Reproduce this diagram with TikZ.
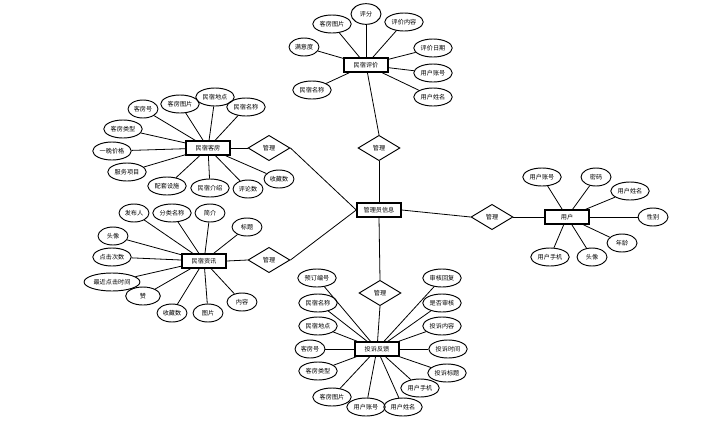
\documentclass[tikz,border=0pt]{standalone}
\usepackage{fontspec}
\newfontfamily\cjk{Noto Sans CJK SC}
\usetikzlibrary{shapes.geometric}

\tikzset{every picture/.style={line width=0.6pt}}
\tikzset{
	txt/.style={font=\cjk\fontsize{4.6pt}{5pt}\selectfont},
	attr/.style={txt, draw, ellipse, line width=0.7pt, inner xsep=1pt, inner ysep=0pt, minimum width=22.5pt, minimum height=13.5pt},
	ent/.style={txt, draw, rectangle, line width=1.1pt, inner sep=1pt, minimum width=33pt, minimum height=10.5pt},
	rel/.style={txt, draw, diamond, line width=0.7pt, inner sep=0pt, minimum width=31.5pt, minimum height=19pt}}

\begin{document}
\begin{tikzpicture}[x=0.75pt,y=0.75pt,yscale=-1,xscale=1]
	\useasboundingbox (0,0) rectangle (706,422);

	% Entities
	\node [ent] (gly) at (379,210) {管理员信息};
	\node [ent] (pj) at (366,65) {民宿评价};
	\node [ent] (kf) at (208,148) {民宿客房};
	\node [ent] (zx) at (204,261) {民宿资讯};
	\node [ent] (ts) at (377,349) {投诉反馈};
	\node [ent] (yh) at (567,217) {用户};

	% Relations
	\node [rel] (glpj) at (379,148) {管理};
	\node [rel] (glkf) at (269,148) {管理};
	\node [rel] (glzx) at (269,260) {管理};
	\node [rel] (glts) at (380,293) {管理};
	\node [rel] (glyh) at (492,217) {管理};

	\draw (pj) -- (glpj.north);
	\draw (glpj.south) -- (gly.north);
	\draw (kf.east) -- (glkf.west);
	\draw (glkf.east) -- (gly.west);
	\draw (zx.east) -- (glzx.west);
	\draw (glzx.east) -- (gly.west);
	\draw (ts) -- (glts.south);
	\draw (glts.north) -- (gly.south);
	\draw (yh.west) -- (glyh.east);
	\draw (glyh.west) -- (gly.east);

	% Text Node -- 民宿评价
	\node [attr] (pj1) at (332,24) {客房图片};
	\node [attr, minimum height=15.5pt] (pj2) at (366,14) {评分};
	\node [attr] (pj3) at (404,22) {评价内容};
	\node [attr] (pj4) at (304,47) {满意度};
	\node [attr] (pj5) at (433,48) {评价日期};
	\node [attr] (pj6) at (433,73) {用户账号};
	\node [attr] (pj7) at (433,97) {用户姓名};
	\node [attr] (pj8) at (312,90) {民宿名称};
	\foreach \i in {1,...,8} \draw (pj\i) -- (pj);

	% Text Node -- 民宿客房
	\node [attr] (kf1) at (143,109) {客房号};
	\node [attr] (kf2) at (180,104) {客房图片};
	\node [attr] (kf3) at (215,97) {民宿地点};
	\node [attr] (kf4) at (246,107) {民宿名称};
	\node [attr] (kf5) at (123,129) {客房类型};
	\node [attr] (kf6) at (112,151) {一晚价格};
	\node [attr] (kf7) at (127,172) {服务项目};
	\node [attr] (kf8) at (167,186) {配套设施};
	\node [attr] (kf9) at (210,188) {民宿介绍};
	\node [attr] (kf10) at (248,189) {评论数};
	\node [attr] (kf11) at (279,179) {收藏数};
	\foreach \i in {1,...,11} \draw (kf\i) -- (kf);

	% Text Node -- 民宿资讯
	\node [attr] (zx1) at (134,213) {发布人};
	\node [attr] (zx2) at (172,213) {分类名称};
	\node [attr] (zx3) at (210,213) {简介};
	\node [attr] (zx4) at (247,227) {标题};
	\node [attr] (zx5) at (113,236) {头像};
	\node [attr] (zx6) at (112,257) {点击次数};
	\node [attr] (zx7) at (112,282) {最近点击时间};
	\node [attr, minimum width=26pt] (zx8) at (143,296) {赞};
	\node [attr] (zx9) at (172,313) {收藏数};
	\node [attr] (zx10) at (208,313) {图片};
	\node [attr] (zx11) at (242,302) {内容};
	\foreach \i in {1,...,11} \draw (zx\i) -- (zx);

	% Text Node -- 投诉反馈
	\node [attr] (ts1) at (317,278) {预订编号};
	\node [attr] (ts2) at (318,303) {民宿名称};
	\node [attr] (ts3) at (318,326) {民宿地点};
	\node [attr] (ts4) at (310,349) {客房号};
	\node [attr] (ts5) at (318,371) {客房类型};
	\node [attr] (ts6) at (332,397) {客房图片};
	\node [attr] (ts7) at (366,407) {用户账号};
	\node [attr] (ts8) at (403,407) {用户姓名};
	\node [attr] (ts9) at (420,388) {用户手机};
	\node [attr] (ts10) at (442,278) {审核回复};
	\node [attr] (ts11) at (442,303) {是否审核};
	\node [attr] (ts12) at (442,326) {投诉内容};
	\node [attr] (ts13) at (448,349) {投诉时间};
	\node [attr] (ts14) at (447,373) {投诉标题};
	\foreach \i in {1,...,14} \draw (ts\i) -- (ts);

	% Text Node -- 用户
	\node [attr] (yh1) at (542,177) {用户账号};
	\node [attr] (yh2) at (596,177) {密码};
	\node [attr] (yh3) at (630,191) {用户姓名};
	\node [attr] (yh4) at (653,217) {性别};
	\node [attr] (yh5) at (622,243) {年龄};
	\node [attr] (yh6) at (550,257) {用户手机};
	\node [attr] (yh7) at (592,257) {头像};
	\foreach \i in {1,...,7} \draw (yh\i) -- (yh);

\end{tikzpicture}
\end{document}
